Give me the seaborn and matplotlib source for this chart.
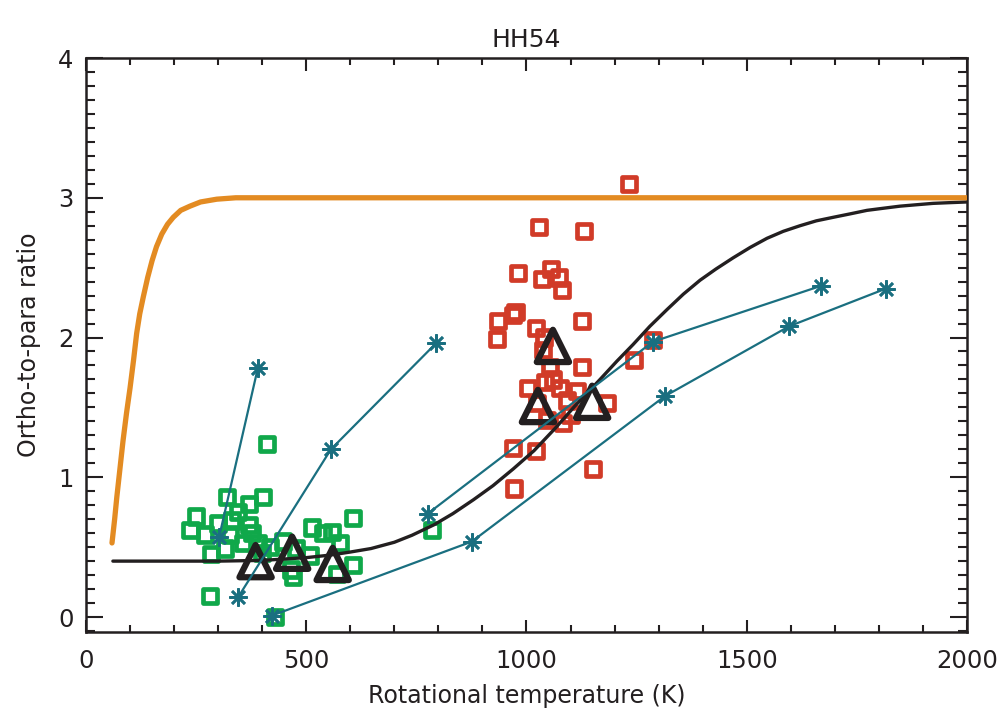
import matplotlib

matplotlib.use("Agg")
import matplotlib.pyplot as plt
import seaborn as sns
from matplotlib.ticker import MultipleLocator

# green squares (low temperature component)
green_t = [411, 320, 370, 402, 270, 300, 331, 370, 377, 356, 390, 418, 447, 477,
           513, 538, 558, 606, 577, 465, 470, 570, 606, 281, 429, 785, 327, 345,
           400, 508, 316, 237, 250, 283]
green_r = [1.24, 0.86, 0.81, 0.86, 0.59, 0.67, 0.69, 0.66, 0.60, 0.53, 0.53, 0.50, 0.54, 0.49,
           0.64, 0.60, 0.61, 0.71, 0.53, 0.34, 0.29, 0.31, 0.37, 0.15, 0.00, 0.62, 0.59, 0.75,
           0.46, 0.44, 0.49, 0.62, 0.72, 0.45]

# red squares (high temperature component)
red_t = [1233, 1029, 1131, 981, 1056, 1035, 1074, 1081, 935, 969, 933, 1126, 1022, 1037,
         1053, 1126, 1003, 1042, 1076, 1115, 1092, 1183, 1024, 1046, 1083, 1244, 1287,
         969, 1022, 1151, 972, 975, 1040, 1060, 1100]
red_r = [3.10, 2.79, 2.76, 2.46, 2.49, 2.42, 2.43, 2.34, 2.12, 2.16, 1.99, 2.12, 2.07, 1.91,
         1.79, 1.79, 1.64, 1.68, 1.64, 1.62, 1.55, 1.53, 1.53, 1.41, 1.39, 1.84, 1.98,
         1.21, 1.19, 1.06, 0.92, 2.18, 2.00, 1.70, 1.45]

# black triangles
tri_t = [385, 468, 560, 1060, 1026, 1149]
tri_r = [0.40, 0.46, 0.38, 1.94, 1.51, 1.54]

# teal model tracks
track1_t = [302, 390]
track1_r = [0.57, 1.78]
track2_t = [345, 556, 795]
track2_r = [0.14, 1.20, 1.96]
track3_t = [422, 876, 1314, 1596, 1816]
track3_r = [0.01, 0.54, 1.58, 2.08, 2.35]
track4_t = [776, 1287, 1669]
track4_r = [0.74, 1.97, 2.37]

# LTE curve (orange)
lte_t = [59, 65, 70, 77, 84, 92, 100, 108, 115, 122, 130, 140, 150, 160, 172, 185,
         198, 215, 236, 260, 297, 340, 388, 700, 1000, 1500, 2000]
lte_r = [0.53, 0.70, 0.86, 1.06, 1.26, 1.46, 1.64, 1.84, 2.03, 2.17, 2.29, 2.43, 2.55,
         2.65, 2.74, 2.81, 2.86, 2.91, 2.94, 2.97, 2.99, 3.00, 3.00, 3.00, 3.00, 3.00, 3.00]

# black model curve
mod_t = [61, 200, 300, 400, 450, 500, 554, 600, 647, 700, 740, 790, 833, 880, 924, 970,
         1017, 1065, 1110, 1167, 1205, 1242, 1280, 1319, 1356, 1394, 1430, 1469, 1508,
         1546, 1583, 1621, 1658, 1696, 1735, 1773, 1810, 1848, 1885, 1923, 1960, 2000]
mod_r = [0.40, 0.40, 0.40, 0.405, 0.415, 0.425, 0.443, 0.465, 0.49, 0.535, 0.585, 0.66,
         0.74, 0.84, 0.94, 1.06, 1.19, 1.35, 1.51, 1.70, 1.83, 1.95, 2.08, 2.20, 2.31,
         2.41, 2.49, 2.57, 2.645, 2.71, 2.76, 2.80, 2.835, 2.86, 2.885, 2.91, 2.925,
         2.94, 2.95, 2.96, 2.965, 2.97]

GREEN = "#10a84a"
RED = "#d13b28"
TEAL = "#1a6f80"
ORANGE = "#e38b22"
BLACK = "#231f20"

sns.set_theme(style="ticks")
plt.rcParams["font.family"] = ["DejaVu Sans"]

fig = plt.figure(figsize=(10.06, 7.12), dpi=100)
ax = fig.add_axes([0.0855, 0.1124, 0.8757, 0.8061])

sns.scatterplot(x=green_t, y=green_r, ax=ax, marker="s", s=105, facecolors="none",
                edgecolor=GREEN, linewidth=3.4, zorder=2)
sns.scatterplot(x=red_t, y=red_r, ax=ax, marker="s", s=105, facecolors="none",
                edgecolor=RED, linewidth=3.4, zorder=2)
sns.scatterplot(x=tri_t, y=tri_r, ax=ax, marker="^", s=540, facecolors="none",
                edgecolor=BLACK, linewidth=4.5, zorder=3)

sns.lineplot(x=mod_t, y=mod_r, ax=ax, color=BLACK, linewidth=2.4, sort=False,
             estimator=None, zorder=4)

for tt, rr in [(track1_t, track1_r), (track2_t, track2_r),
               (track3_t, track3_r), (track4_t, track4_r)]:
    sns.lineplot(x=tt, y=rr, ax=ax, color=TEAL, linewidth=1.6, sort=False,
                 estimator=None, marker=(8, 2, 0), markersize=13,
                 markeredgewidth=1.9, markeredgecolor=TEAL, zorder=5)

sns.lineplot(x=lte_t, y=lte_r, ax=ax, color=ORANGE, linewidth=3.8, sort=False,
             estimator=None, zorder=6)

ax.set_xlim(0, 2000)
ax.set_ylim(-0.107, 4.0)
ax.xaxis.set_major_locator(MultipleLocator(500))
ax.xaxis.set_minor_locator(MultipleLocator(100))
ax.yaxis.set_major_locator(MultipleLocator(1))
ax.yaxis.set_minor_locator(MultipleLocator(0.1))
ax.tick_params(axis="both", which="both", direction="in", top=True, right=True,
               color=BLACK, width=1.5, labelsize=17.5, labelcolor=BLACK)
ax.tick_params(axis="x", which="major", length=9, pad=12)
ax.tick_params(axis="x", which="minor", length=5)
ax.tick_params(axis="y", which="major", length=12, pad=9)
ax.tick_params(axis="y", which="minor", length=6.5)
for sp in ax.spines.values():
    sp.set_linewidth(1.8)
    sp.set_color(BLACK)

ax.set_xlabel("Rotational temperature (K)", fontsize=17, color=BLACK, labelpad=8)
ax.set_ylabel("Ortho-to-para ratio", fontsize=17, color=BLACK, labelpad=12)
ax.set_title("HH54", fontsize=18, color=BLACK, pad=8)

fig.savefig("out.png", dpi=100)
